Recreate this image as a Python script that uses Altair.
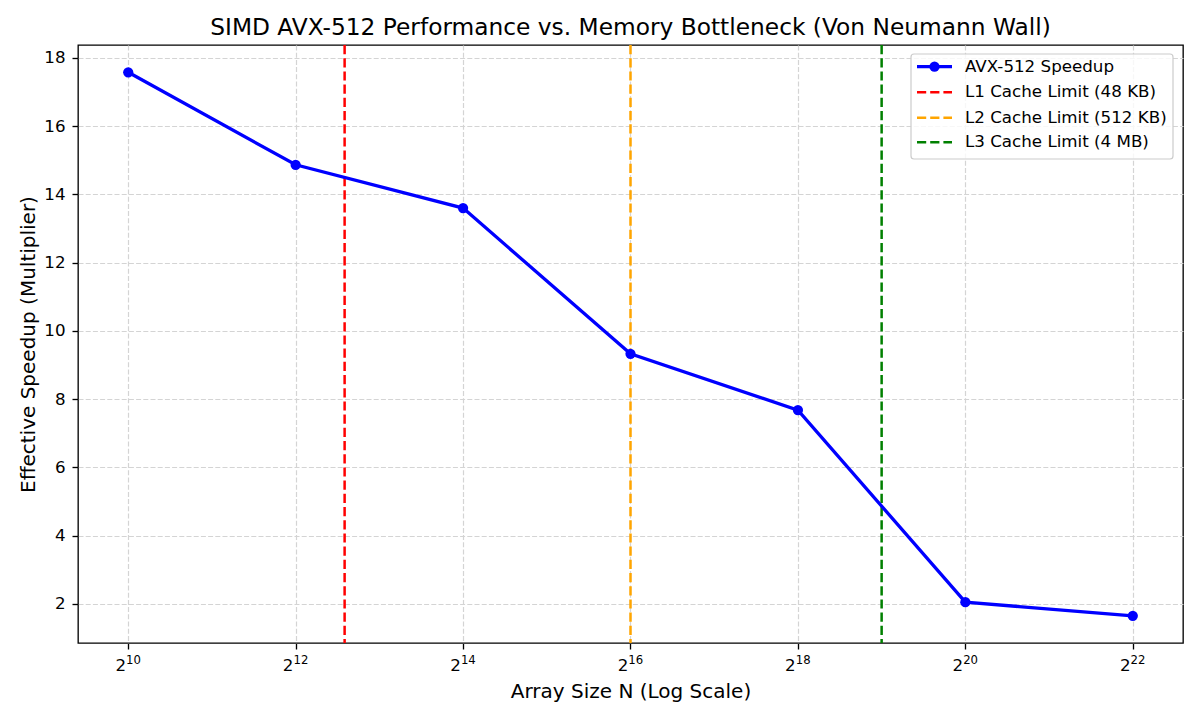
import altair as alt
import pandas as pd

# Benchmark results: array size exponents (N = 2**k) and measured speedup
size_exponents = [10, 12, 14, 16, 18, 20, 22]
speedup = [17.58, 14.87, 13.60, 9.33, 7.68, 2.05, 1.65]

# Cache capacities expressed as element counts (8-byte doubles)
cache_labels = ["L1 Cache Limit (48 KB)", "L2 Cache Limit (512 KB)", "L3 Cache Limit (4 MB)"]
cache_elements = [48 * 1024 // 8, 512 * 1024 // 8, 4 * 1024 * 1024 // 8]
cache_colors = ["#ff0000", "#ffa500", "#008000"]

# Axis ticks: x labels are drawn as base "2" with a raised exponent
x_tick_values = [2 ** k for k in size_exponents]
x_tick_base = ["2"] * len(size_exponents)
x_tick_exponent = [str(k) for k in size_exponents]
y_tick_values = [2, 4, 6, 8, 10, 12, 14, 16, 18]

series_label = "AVX-512 Speedup"
title_text = "SIMD AVX-512 Performance vs. Memory Bottleneck (Von Neumann Wall)"
FONT = "DejaVu Sans"
W, H = 1105, 598

df = pd.DataFrame({"N": [2 ** k for k in size_exponents], "speedup": speedup})
cache_df = pd.DataFrame({"label": cache_labels, "N": cache_elements, "color": cache_colors})
tick_df = pd.DataFrame({"N": x_tick_values, "base": x_tick_base, "exp": x_tick_exponent})

x_scale = alt.Scale(type="log", base=2, domain=[2 ** 9.4, 2 ** 22.6], nice=False)
y_scale = alt.Scale(domain=[0.854, 18.38], nice=False, zero=False)

GRID = dict(grid=True, gridDash=[5, 2.2], gridColor="#d4d4d4", gridWidth=1.2)

x_axis = alt.Axis(
    values=x_tick_values, labels=False, title="Array Size N (Log Scale)",
    titleX=W / 2, titleY=54, titleBaseline="alphabetic", titleAlign="center",
    **GRID,
)
y_axis = alt.Axis(
    values=y_tick_values, title="Effective Speedup (Multiplier)",
    titleX=-50, titleY=H / 2, titleAngle=270, titleBaseline="middle", titleAlign="center",
    labelPadding=7,
    **GRID,
)

rules = alt.Chart(cache_df).mark_rule(strokeWidth=2.5, strokeDash=[9.2, 4]).encode(
    x=alt.X("N:Q", scale=x_scale, axis=x_axis),
    color=alt.Color("color:N", scale=None),
)

line = alt.Chart(df).mark_line(color="#0000ff", strokeWidth=3.3).encode(
    x=alt.X("N:Q", scale=x_scale, axis=x_axis),
    y=alt.Y("speedup:Q", scale=y_scale, axis=y_axis),
)
points = alt.Chart(df).mark_circle(color="#0000ff", size=105, opacity=1).encode(
    x=alt.X("N:Q", scale=x_scale),
    y=alt.Y("speedup:Q", scale=y_scale),
)

# x tick labels: "2" followed by a smaller, raised exponent
tick_base = alt.Chart(tick_df).mark_text(
    font=FONT, fontSize=16.7, align="right", baseline="alphabetic", color="black", dx=-2.2
).encode(x=alt.X("N:Q", scale=x_scale), y=alt.value(H + 27.7), text="base:N")
tick_exp = alt.Chart(tick_df).mark_text(
    font=FONT, fontSize=11.7, align="left", baseline="alphabetic", color="black", dx=-2.2
).encode(x=alt.X("N:Q", scale=x_scale), y=alt.value(H + 21), text="exp:N")

one = pd.DataFrame({"k": [0]})

title = alt.Chart(one).mark_text(
    text=title_text, font=FONT, fontSize=23.3, align="center", baseline="alphabetic", color="black"
).encode(x=alt.value(W / 2), y=alt.value(-10.5))

# Legend panel drawn in the upper right corner of the plot
LX0, LX1, LY0, LY1 = 833, 1095, 9, 114
row_y = [21.7, 47.3, 72.7, 97.3]
seg_x0, seg_x1, text_x = 839, 874, 887

legend_layers = [
    alt.Chart(one).mark_rect(
        fill="white", fillOpacity=0.8, stroke="#cccccc", strokeWidth=1.2, cornerRadius=3
    ).encode(x=alt.value(LX0), x2=alt.value(LX1), y=alt.value(LY0), y2=alt.value(LY1)),
    alt.Chart(one).mark_rule(color="#0000ff", strokeWidth=3.3).encode(
        x=alt.value(seg_x0), x2=alt.value(seg_x1), y=alt.value(row_y[0])
    ),
    alt.Chart(one).mark_circle(color="#0000ff", size=105, opacity=1).encode(
        x=alt.value((seg_x0 + seg_x1) / 2), y=alt.value(row_y[0])
    ),
    alt.Chart(one).mark_text(
        text=series_label, font=FONT, fontSize=16.7, align="left", baseline="middle", color="black"
    ).encode(x=alt.value(text_x), y=alt.value(row_y[0])),
]
for i, (lab, col) in enumerate(zip(cache_labels, cache_colors)):
    yy = row_y[i + 1]
    legend_layers.append(
        alt.Chart(one).mark_rule(color=col, strokeWidth=2.5, strokeDash=[9.2, 4]).encode(
            x=alt.value(seg_x0), x2=alt.value(seg_x1), y=alt.value(yy)
        )
    )
    legend_layers.append(
        alt.Chart(one).mark_text(
            text=lab, font=FONT, fontSize=16.7, align="left", baseline="middle", color="black"
        ).encode(x=alt.value(text_x), y=alt.value(yy))
    )

chart = alt.layer(
    rules, line, points, tick_base, tick_exp, title, *legend_layers
).properties(
    width=W,
    height=H,
    background="white",
    autosize=alt.AutoSizeParams(type="none"),
    padding={"left": 78, "top": 45, "right": 17, "bottom": 77},
).configure_view(
    stroke="black", strokeWidth=1.33
).configure_axis(
    labelFont=FONT, labelFontSize=16.7, labelColor="black",
    titleFont=FONT, titleFontSize=20, titleFontWeight="normal", titleColor="black",
    tickColor="black", tickSize=6, tickWidth=1.33, domain=False,
)

chart.save("out.html", embed_options={"renderer": "svg", "actions": False})
